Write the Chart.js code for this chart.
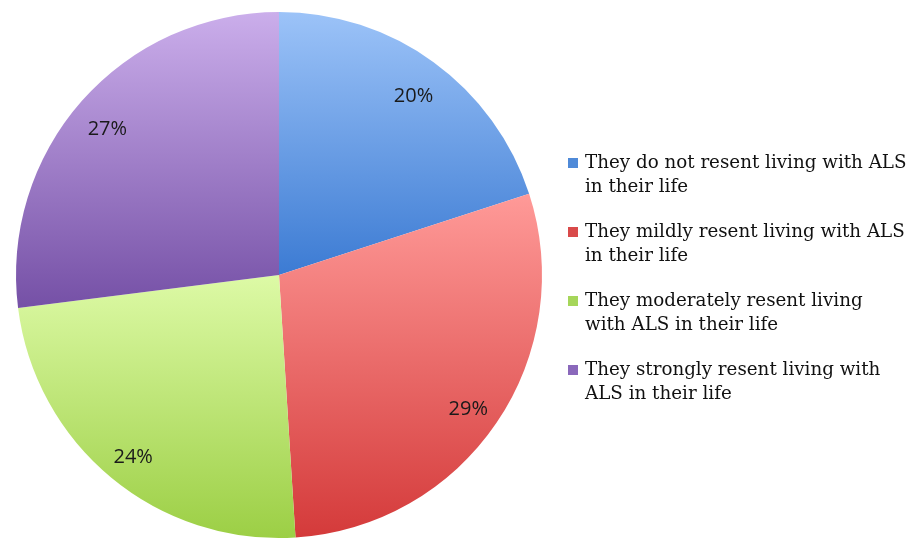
<!DOCTYPE html>
<html>
<head>
<meta charset="utf-8">
<script src="https://cdn.jsdelivr.net/npm/chart.js@4"></script>
<style>
  html, body { margin: 0; padding: 0; background: #fff; }
  #wrap { width: 910px; height: 542px; position: relative; }
</style>
</head>
<body>
<div id="wrap"><canvas id="pie"></canvas></div>
<script>
// --- data ---
const categories = [
  'They do not resent living with ALS in their life',
  'They mildly resent living with ALS in their life',
  'They moderately resent living with ALS in their life',
  'They strongly resent living with ALS in their life'
];
const legendLines = [
  ['They do not resent living with ALS', 'in their life'],
  ['They mildly resent living with ALS', 'in their life'],
  ['They moderately resent living', 'with ALS in their life'],
  ['They strongly resent living with', 'ALS in their life']
];
const values = [20, 29, 24, 27];
const lightColors = ['#9cc3f8', '#ff9a98', '#ddfaa6', '#cbaeeb'];
const darkColors = ['#3c7bd3', '#d43a3a', '#9ccf45', '#7550a6'];
const legendColors = ['#4f8ad8', '#d94a4a', '#a6d65a', '#8a68bb'];

// vertical extent of slice i, so each slice gets its own top-to-bottom gradient
function sliceYRange(i, cy, r) {
  const total = values.reduce((a, b) => a + b, 0);
  const before = values.slice(0, i).reduce((a, b) => a + b, 0);
  const a0 = -Math.PI / 2 + (before / total) * 2 * Math.PI;
  const a1 = a0 + (values[i] / total) * 2 * Math.PI;
  let ys = [cy, cy + r * Math.sin(a0), cy + r * Math.sin(a1)];
  [Math.PI / 2, -Math.PI / 2, 3 * Math.PI / 2].forEach(a => {
    if (a > a0 && a < a1) ys.push(cy + r * Math.sin(a));
  });
  return [Math.min(...ys), Math.max(...ys)];
}

function sliceFill(context) {
  const chart = context.chart;
  const area = chart.chartArea;
  if (!area) return lightColors[context.dataIndex];
  const cy = (area.top + area.bottom) / 2;
  const r = Math.min(area.right - area.left, area.bottom - area.top) / 2;
  const [y0, y1] = sliceYRange(context.dataIndex, cy, r);
  const g = chart.ctx.createLinearGradient(0, y0, 0, y1);
  g.addColorStop(0, lightColors[context.dataIndex]);
  g.addColorStop(1, darkColors[context.dataIndex]);
  return g;
}

// --- percent labels inside the slices ---
const sliceLabels = {
  id: 'sliceLabels',
  afterDatasetsDraw(chart) {
    const ctx = chart.ctx;
    const meta = chart.getDatasetMeta(0);
    const total = values.reduce((a, b) => a + b, 0);
    ctx.save();
    ctx.font = '20px "Open Sans", sans-serif';
    ctx.fillStyle = '#1a1a1a';
    ctx.textAlign = 'center';
    ctx.textBaseline = 'middle';
    meta.data.forEach((arc, i) => {
      const mid = (arc.startAngle + arc.endAngle) / 2;
      const d = arc.outerRadius * 0.87;
      const x = arc.x + Math.cos(mid) * d;
      const y = arc.y + Math.sin(mid) * d + 6;
      ctx.fillText(Math.round(values[i] / total * 100) + '%', x, y);
    });
    ctx.restore();
  }
};

// --- legend on the right, two lines per entry ---
const sideLegend = {
  id: 'sideLegend',
  afterDraw(chart) {
    const ctx = chart.ctx;
    ctx.save();
    ctx.font = '18.3px "DejaVu Serif", serif';
    ctx.textBaseline = 'middle';
    ctx.textAlign = 'left';
    legendLines.forEach((lines, i) => {
      const y = 163 + i * 69;
      ctx.fillStyle = legendColors[i];
      ctx.fillRect(568, y - 5, 10, 10);
      ctx.fillStyle = '#111';
      lines.forEach((t, j) => ctx.fillText(t, 585, y + j * 24));
    });
    ctx.restore();
  }
};

new Chart(document.getElementById('pie'), {
  type: 'pie',
  data: {
    labels: categories,
    datasets: [{
      data: values,
      backgroundColor: sliceFill,
      borderWidth: 0
    }]
  },
  options: {
    responsive: true,
    maintainAspectRatio: false,
    animation: false,
    layout: { padding: { left: 16, top: 12, bottom: 4, right: 368 } },
    plugins: {
      legend: { display: false },
      tooltip: { enabled: false }
    }
  },
  plugins: [sliceLabels, sideLegend]
});
</script>
</body>
</html>
